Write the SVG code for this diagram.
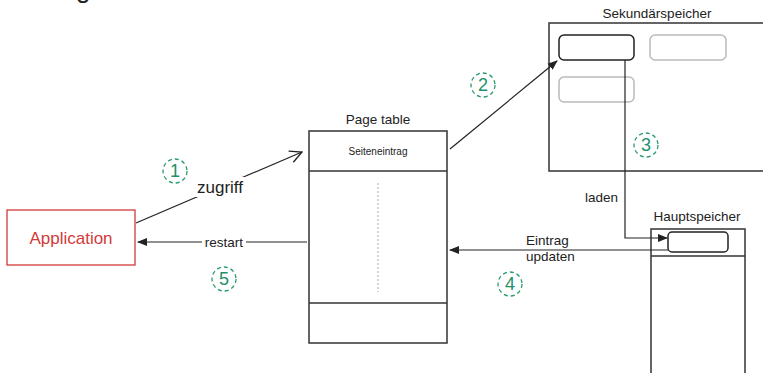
<svg xmlns="http://www.w3.org/2000/svg" width="763" height="373" viewBox="0 0 763 373">
  <defs>
    <style>
      text { font-family: "Liberation Sans", Arial, sans-serif; fill: #222; }
      .box { fill: #fff; stroke: #333; stroke-width: 1.5; }
      .inner { fill: #fff; stroke: #222; stroke-width: 1.5; }
      .ghost { fill: #fff; stroke: #bbb; stroke-width: 1.5; }
      .edge { fill: none; stroke: #222; stroke-width: 1.2; }
      .step { fill: none; stroke: #2a9a70; stroke-width: 1.3; stroke-dasharray: 4 3; }
      .num { fill: #1f9068; font-size: 18px; text-anchor: middle; }
      .lbl { font-size: 13.5px; }
      .title { font-size: 13.5px; text-anchor: middle; }
    </style>
    <marker id="solid" viewBox="0 0 10 10" refX="9" refY="5" markerWidth="10" markerHeight="10" markerUnits="userSpaceOnUse" orient="auto">
      <path d="M0,1 L10,5 L0,9 Z" fill="#222"/>
    </marker>
    <marker id="open" viewBox="0 0 14 14" refX="13" refY="7" markerWidth="14" markerHeight="14" markerUnits="userSpaceOnUse" orient="auto">
      <path d="M1,1 L13,7 L1,13" fill="none" stroke="#222" stroke-width="1.3"/>
    </marker>
  </defs>

  <!-- heading descender peeking in at the top -->
  <text x="76" y="-2" font-size="26">g</text>

  <g id="application">
    <rect x="7" y="210" width="128" height="55" fill="#fff" stroke="#d23a3a" stroke-width="1.3"/>
    <text x="71" y="244" font-size="17" text-anchor="middle" style="fill:#d23a3a">Application</text>
  </g>

  <g id="page-table">
    <text class="title" x="378" y="124">Page table</text>
    <rect class="box" x="309" y="131" width="138" height="212"/>
    <line x1="309" y1="171" x2="447" y2="171" stroke="#333" stroke-width="1.5"/>
    <line x1="309" y1="303" x2="447" y2="303" stroke="#333" stroke-width="1.5"/>
    <text x="378" y="155" font-size="10" text-anchor="middle">Seiteneintrag</text>
    <line x1="378" y1="183" x2="378" y2="292" stroke="#aaa" stroke-width="1" stroke-dasharray="2 2"/>
  </g>

  <g id="sekundaerspeicher">
    <text class="title" x="657" y="18">Sekundärspeicher</text>
    <rect class="box" x="549" y="23" width="216" height="148"/>
    <rect class="inner" x="559" y="35" width="75" height="25" rx="5"/>
    <rect class="ghost" x="650" y="35" width="76" height="25" rx="5"/>
    <rect class="ghost" x="559" y="77" width="75" height="25" rx="5"/>
  </g>

  <g id="hauptspeicher">
    <text class="title" x="697" y="221">Hauptspeicher</text>
    <rect class="box" x="651" y="229" width="94" height="150"/>
    <line x1="651" y1="256" x2="745" y2="256" stroke="#333" stroke-width="1.5"/>
    <rect class="inner" x="668" y="232" width="60" height="20" rx="4"/>
  </g>

  <g id="connectors">
    <line class="edge" x1="136" y1="223" x2="302" y2="152" marker-end="url(#open)"/>
    <line class="edge" x1="307" y1="242" x2="138" y2="242" marker-end="url(#solid)"/>
    <line class="edge" x1="450" y1="149" x2="557" y2="61" marker-end="url(#solid)"/>
    <polyline class="edge" points="625,60 625,238 667,238" marker-end="url(#solid)"/>
    <line class="edge" x1="668" y1="250" x2="450" y2="250" marker-end="url(#solid)"/>
    <!-- edge labels -->
    <rect x="195" y="177" width="51" height="20" fill="#fff"/>
    <text x="220" y="193" font-size="17" text-anchor="middle">zugriff</text>
    <rect x="202" y="234" width="44" height="16" fill="#fff"/>
    <text class="lbl" x="224" y="247" text-anchor="middle">restart</text>
    <text class="lbl" x="585" y="202">laden</text>
    <text class="lbl" x="526" y="245">Eintrag</text>
    <text class="lbl" x="526" y="261">updaten</text>
  </g>

  <g id="steps">
    <g id="step1"><circle class="step" cx="175" cy="171" r="12"/><text class="num" x="175" y="177">1</text></g>
    <g id="step2"><circle class="step" cx="483" cy="85" r="12"/><text class="num" x="483" y="91">2</text></g>
    <g id="step3"><circle class="step" cx="646" cy="145" r="12"/><text class="num" x="646" y="151">3</text></g>
    <g id="step4"><circle class="step" cx="510" cy="284" r="12"/><text class="num" x="510" y="290">4</text></g>
    <g id="step5"><circle class="step" cx="224" cy="279" r="12"/><text class="num" x="224" y="285">5</text></g>
  </g>
</svg>
